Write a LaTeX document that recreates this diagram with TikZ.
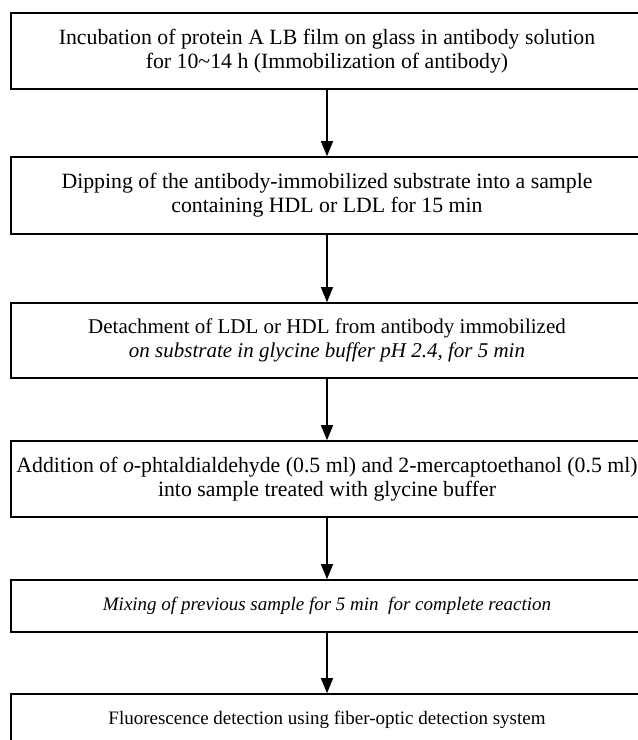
\documentclass[tikz,border=0pt]{standalone}
\usepackage{fontspec}
\setmainfont{Liberation Serif}
\usetikzlibrary{arrows.meta}
\tikzset{
  stepbox/.style={draw, line width=1.6pt, minimum width=632pt, inner sep=0pt,
    align=center, font=\fontsize{21.8}{24}\selectfont, anchor=center},
  smalltext/.style={font=\fontsize{19}{22}\selectfont},
  midtext/.style={font=\fontsize{21}{24}\selectfont},
  flow/.style={line width=1.3pt, -{Triangle[width=12pt,length=15pt]}}
}
\begin{document}
\begin{tikzpicture}[x=1pt,y=-1pt]
\useasboundingbox (0,0) rectangle (638,740);
\clip (0,0) rectangle (638,740);
\node[stepbox, minimum height=76pt] (b1) at (327,51)
  {Incubation of protein A LB film on glass in antibody solution\\for 10\textasciitilde 14 h (Immobilization of antibody)};
\node[stepbox, minimum height=77pt] (b2) at (327,195.5)
  {Dipping of the antibody-immobilized substrate into a sample\\containing HDL or LDL for 15 min};
\node[stepbox, midtext, minimum height=75pt] (b3) at (327,340.5)
  {Detachment of LDL or HDL from antibody immobilized\\\textit{on substrate in glycine buffer pH 2.4, for 5 min}};
\node[stepbox, minimum height=76pt] (b4) at (327,479)
  {Addition of \textit{o}-phtaldialdehyde (0.5 ml) and 2-mercaptoethanol (0.5 ml)\\into sample treated with glycine buffer};
\node[stepbox, smalltext, minimum height=52pt] (b5) at (327,606)
  {\textit{Mixing of previous sample for 5 min\ \ for complete reaction}};
\node[stepbox, smalltext, minimum height=52pt] (b6) at (327,720)
  {Fluorescence detection using fiber-optic detection system};
\draw[flow] (b1.south) -- (b2.north);
\draw[flow] (b2.south) -- (b3.north);
\draw[flow] (b3.south) -- (b4.north);
\draw[flow] (b4.south) -- (b5.north);
\draw[flow] (b5.south) -- (b6.north);
\end{tikzpicture}
\end{document}
